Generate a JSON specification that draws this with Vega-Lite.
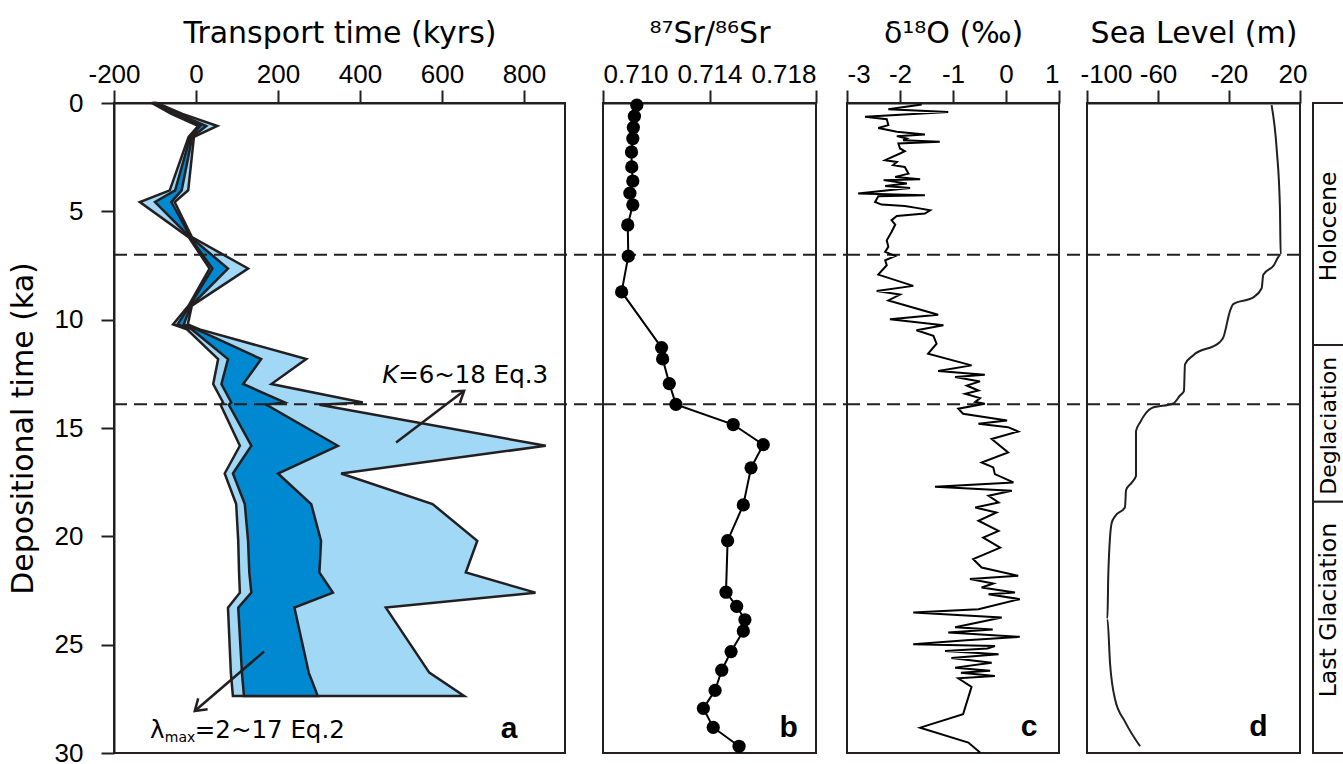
{
  "$schema": "https://vega.github.io/schema/vega-lite/v6.json",
  "padding": {"left": 7, "top": 17, "right": 5, "bottom": 5},
  "background": "white",
  "config": {
    "locale": {"number": {"decimal": ".", "thousands": ",", "grouping": [3], "currency": ["", ""], "minus": "-"}},
    "font": "DejaVu Sans",
    "view": {"stroke": "#231f20", "strokeWidth": 2},
    "axis": {"labelFont": "Liberation Sans", "titleFont": "DejaVu Sans", "labelFontSize": 26, "titleFontSize": 30, "titleFontWeight": "normal", "labelColor": "#000", "titleColor": "#000", "tickColor": "#231f20", "domainColor": "#231f20", "tickWidth": 2, "domainWidth": 2, "tickSize": 13, "grid": false, "labelPadding": 3, "titlePadding": 13, "labelOverlap": false},
    "text": {"font": "DejaVu Sans", "color": "#000"}
  },
  "datasets": {
    "transport": [
      {"ka": 0, "L1": -108, "L2": -105, "L3": -100, "L4": -95},
      {"ka": 0.5, "L1": -60, "L2": -52, "L3": -42, "L4": -33},
      {"ka": 1.06, "L1": 5, "L2": 10, "L3": 25, "L4": 52},
      {"ka": 1.56, "L1": -18, "L2": -14, "L3": -9, "L4": -5},
      {"ka": 4.03, "L1": -64, "L2": -51, "L3": -35, "L4": -19},
      {"ka": 4.57, "L1": -137, "L2": -100, "L3": -60, "L4": -52},
      {"ka": 6.19, "L1": -18, "L2": -15, "L3": -13, "L4": -10},
      {"ka": 7.64, "L1": 33, "L2": 40, "L3": 78, "L4": 127},
      {"ka": 9.35, "L1": -18, "L2": -15, "L3": -12, "L4": -10},
      {"ka": 10.22, "L1": -56, "L2": -45, "L3": -30, "L4": -20},
      {"ka": 10.45, "L1": -22, "L2": -10, "L3": 2, "L4": 9},
      {"ka": 11.82, "L1": 54, "L2": 78, "L3": 159, "L4": 269},
      {"ka": 12.97, "L1": 42, "L2": 62, "L3": 115, "L4": 184},
      {"ka": 13.82, "L1": 66, "L2": 86, "L3": 216, "L4": 407},
      {"ka": 13.93, "L1": 60, "L2": 80, "L3": 172, "L4": 301},
      {"ka": 15.82, "L1": 107, "L2": 135, "L3": 346, "L4": 853},
      {"ka": 17.1, "L1": 70, "L2": 90, "L3": 200, "L4": 354},
      {"ka": 18.51, "L1": 98, "L2": 119, "L3": 281, "L4": 577},
      {"ka": 20.21, "L1": 103, "L2": 127, "L3": 305, "L4": 686},
      {"ka": 21.67, "L1": 105, "L2": 130, "L3": 301, "L4": 658},
      {"ka": 22.6, "L1": 107, "L2": 135, "L3": 334, "L4": 828},
      {"ka": 23.29, "L1": 78, "L2": 103, "L3": 240, "L4": 463},
      {"ka": 26.29, "L1": 85, "L2": 112, "L3": 275, "L4": 569},
      {"ka": 27.37, "L1": 90, "L2": 117, "L3": 297, "L4": 654}
    ],
    "sr": [
      {"ka": 0.1, "sr": 0.71127}, {"ka": 0.61, "sr": 0.71118}, {"ka": 1.13, "sr": 0.71114}, {"ka": 1.64, "sr": 0.71112},
      {"ka": 2.26, "sr": 0.71107}, {"ka": 2.95, "sr": 0.71108}, {"ka": 3.6, "sr": 0.71112}, {"ka": 4.16, "sr": 0.71101},
      {"ka": 4.7, "sr": 0.71112}, {"ka": 5.63, "sr": 0.71093}, {"ka": 7.07, "sr": 0.71095}, {"ka": 8.72, "sr": 0.7107},
      {"ka": 11.29, "sr": 0.7122}, {"ka": 11.81, "sr": 0.71224}, {"ka": 12.95, "sr": 0.71249}, {"ka": 13.91, "sr": 0.71274},
      {"ka": 14.84, "sr": 0.71489}, {"ka": 15.77, "sr": 0.71602}, {"ka": 16.84, "sr": 0.71556}, {"ka": 18.55, "sr": 0.71527},
      {"ka": 20.2, "sr": 0.71468}, {"ka": 22.58, "sr": 0.71462}, {"ka": 23.23, "sr": 0.71502}, {"ka": 23.85, "sr": 0.71533},
      {"ka": 24.37, "sr": 0.71527}, {"ka": 25.32, "sr": 0.71481}, {"ka": 26.18, "sr": 0.71446}, {"ka": 27.11, "sr": 0.71421},
      {"ka": 27.94, "sr": 0.71377}, {"ka": 28.82, "sr": 0.71414}, {"ka": 29.69, "sr": 0.71511}
    ],
    "d18o": [
      {"ka": 0.07, "v": -1.59}, {"ka": 0.29, "v": -2.22}, {"ka": 0.41, "v": -1.09}, {"ka": 0.64, "v": -2.66},
      {"ka": 0.75, "v": -2.25}, {"ka": 1.02, "v": -2.22}, {"ka": 1.15, "v": -2.41}, {"ka": 1.33, "v": -2.06},
      {"ka": 1.45, "v": -1.53}, {"ka": 1.53, "v": -2.06}, {"ka": 1.64, "v": -1.87}, {"ka": 1.72, "v": -1.94},
      {"ka": 1.79, "v": -1.25}, {"ka": 1.87, "v": -2.03}, {"ka": 2.1, "v": -2.0}, {"ka": 2.22, "v": -1.91},
      {"ka": 2.33, "v": -2.0}, {"ka": 2.64, "v": -2.28}, {"ka": 2.72, "v": -2.06}, {"ka": 2.87, "v": -2.13},
      {"ka": 2.95, "v": -1.91}, {"ka": 3.26, "v": -1.84}, {"ka": 3.41, "v": -2.09}, {"ka": 3.52, "v": -1.62},
      {"ka": 3.56, "v": -2.31}, {"ka": 3.72, "v": -1.87}, {"ka": 3.83, "v": -2.28}, {"ka": 3.92, "v": -1.81},
      {"ka": 4.03, "v": -2.22}, {"ka": 4.18, "v": -2.79}, {"ka": 4.26, "v": -1.53}, {"ka": 4.3, "v": -2.41},
      {"ka": 4.57, "v": -2.47}, {"ka": 4.69, "v": -2.35}, {"ka": 4.75, "v": -1.91}, {"ka": 4.84, "v": -1.69},
      {"ka": 4.95, "v": -1.43}, {"ka": 5.1, "v": -1.53}, {"ka": 5.21, "v": -2.06}, {"ka": 5.41, "v": -2.16},
      {"ka": 5.61, "v": -2.09}, {"ka": 5.95, "v": -2.16}, {"ka": 6.34, "v": -2.25}, {"ka": 6.64, "v": -2.22},
      {"ka": 6.87, "v": -2.28}, {"ka": 7.06, "v": -2.09}, {"ka": 7.26, "v": -2.28}, {"ka": 7.49, "v": -2.25},
      {"ka": 7.92, "v": -2.41}, {"ka": 8.44, "v": -1.75}, {"ka": 8.68, "v": -2.44}, {"ka": 8.84, "v": -2.0},
      {"ka": 9.11, "v": -2.22}, {"ka": 9.77, "v": -1.28}, {"ka": 9.98, "v": -2.19}, {"ka": 10.26, "v": -1.18},
      {"ka": 10.49, "v": -1.69}, {"ka": 10.75, "v": -1.37}, {"ka": 11.11, "v": -1.31}, {"ka": 11.57, "v": -1.47},
      {"ka": 12.11, "v": -0.65}, {"ka": 12.37, "v": -1.28}, {"ka": 12.54, "v": -0.4}, {"ka": 12.65, "v": -0.96},
      {"ka": 12.85, "v": -0.49}, {"ka": 13.04, "v": -0.74}, {"ka": 13.27, "v": -0.52}, {"ka": 13.42, "v": -0.77},
      {"ka": 13.62, "v": -0.49}, {"ka": 13.8, "v": -0.58}, {"ka": 13.88, "v": -0.4}, {"ka": 14.11, "v": -0.9},
      {"ka": 14.34, "v": -0.81}, {"ka": 14.65, "v": 0.02}, {"ka": 14.8, "v": -0.52}, {"ka": 14.96, "v": 0.04},
      {"ka": 15.16, "v": 0.23}, {"ka": 15.51, "v": -0.27}, {"ka": 16.13, "v": 0.04}, {"ka": 16.59, "v": -0.46},
      {"ka": 16.82, "v": -0.24}, {"ka": 17.13, "v": -0.21}, {"ka": 17.51, "v": 0.14}, {"ka": 17.71, "v": -1.34},
      {"ka": 17.9, "v": 0.11}, {"ka": 18.13, "v": -0.33}, {"ka": 18.44, "v": -0.14}, {"ka": 18.67, "v": -0.58},
      {"ka": 18.9, "v": -0.18}, {"ka": 19.28, "v": -0.52}, {"ka": 19.75, "v": -0.14}, {"ka": 20.06, "v": -0.43},
      {"ka": 20.52, "v": -0.11}, {"ka": 20.75, "v": -0.33}, {"ka": 21.05, "v": -0.62}, {"ka": 21.44, "v": -0.46},
      {"ka": 21.82, "v": 0.23}, {"ka": 21.97, "v": -0.68}, {"ka": 22.18, "v": -0.24}, {"ka": 22.36, "v": -0.46},
      {"ka": 22.59, "v": 0.17}, {"ka": 22.67, "v": -0.33}, {"ka": 22.9, "v": 0.26}, {"ka": 23.36, "v": -0.52},
      {"ka": 23.52, "v": -1.75}, {"ka": 23.75, "v": -0.08}, {"ka": 24.2, "v": -0.96}, {"ka": 24.3, "v": -0.25},
      {"ka": 24.44, "v": -1.09}, {"ka": 24.64, "v": 0.26}, {"ka": 24.8, "v": -0.75}, {"ka": 24.98, "v": -1.75},
      {"ka": 25.06, "v": -0.21}, {"ka": 25.18, "v": -0.35}, {"ka": 25.29, "v": -1.15}, {"ka": 25.44, "v": -0.14},
      {"ka": 25.62, "v": -1.03}, {"ka": 25.83, "v": -0.27}, {"ka": 26.06, "v": -0.96}, {"ka": 26.2, "v": -0.3},
      {"ka": 26.3, "v": -0.85}, {"ka": 26.45, "v": -0.21}, {"ka": 26.55, "v": -0.9}, {"ka": 26.95, "v": -0.65},
      {"ka": 28.21, "v": -0.81}, {"ka": 28.83, "v": -1.62}, {"ka": 29.52, "v": -0.71}, {"ka": 29.98, "v": -0.49}
    ],
    "sealevel": [
      {"ka": 0.1, "m": 4.0}, {"ka": 2.16, "m": 6.9}, {"ka": 4.84, "m": 8.7}, {"ka": 7.0, "m": 9.1},
      {"ka": 7.52, "m": 5.0}, {"ka": 7.93, "m": -0.7}, {"ka": 8.55, "m": -1.6}, {"ka": 8.97, "m": -6.3},
      {"ka": 9.28, "m": -17.6}, {"ka": 9.59, "m": -19.4}, {"ka": 10.82, "m": -23.2}, {"ka": 11.03, "m": -25.1},
      {"ka": 11.64, "m": -40.1}, {"ka": 12.06, "m": -44.8}, {"ka": 13.3, "m": -45.4}, {"ka": 13.5, "m": -47.6},
      {"ka": 13.87, "m": -51.4}, {"ka": 14.08, "m": -63.6}, {"ka": 14.74, "m": -70.1}, {"ka": 15.15, "m": -72.4},
      {"ka": 17.21, "m": -72.4}, {"ka": 17.52, "m": -74.8}, {"ka": 17.87, "m": -78.0}, {"ka": 18.66, "m": -78.6},
      {"ka": 19.07, "m": -84.2}, {"ka": 19.38, "m": -86.1}, {"ka": 21.75, "m": -88.0}, {"ka": 23.81, "m": -88.5},
      {"ka": 25.88, "m": -87.0}, {"ka": 27.52, "m": -84.2}, {"ka": 28.55, "m": -78.6}, {"ka": 29.69, "m": -70.1}
    ],
    "periods": [
      {"s": 0, "e": 11.17, "name": "Holocene", "mid": 5.7},
      {"s": 11.17, "e": 18.4, "name": "Deglaciation", "mid": 14.9},
      {"s": 18.4, "e": 30, "name": "Last Glaciation", "mid": 23.4}
    ],
    "dashes": [{"ka": 7.0}, {"ka": 13.9}]
  },
  "bounds": "flush",
  "spacing": 38,
  "hconcat": [
    {
      "width": 451,
      "height": 650,
      "layer": [
        {
          "data": {"name": "transport"},
          "mark": {"type": "area", "orient": "horizontal", "fill": "#a0d8f5", "stroke": "#231f20", "strokeWidth": 2.5, "strokeJoin": "miter"},
          "encoding": {
            "y": {"field": "ka", "type": "quantitative", "scale": {"domain": [0, 30], "reverse": true, "nice": false, "zero": false},
                  "axis": {"orient": "left", "title": "Depositional time (ka)", "values": [0, 5, 10, 15, 20, 25, 30], "format": "d", "labelPadding": 18, "titlePadding": 16}},
            "x": {"field": "L1", "type": "quantitative", "scale": {"domain": [-200, 900], "nice": false, "zero": false},
                  "axis": {"orient": "top", "title": "Transport time (kyrs)", "values": [-200, 0, 200, 400, 600, 800], "format": "d", "labelFlush": false}},
            "x2": {"field": "L4"}
          }
        },
        {
          "data": {"name": "transport"},
          "mark": {"type": "area", "orient": "horizontal", "fill": "#0088d1", "stroke": "#231f20", "strokeWidth": 2.5, "strokeJoin": "miter"},
          "encoding": {
            "y": {"field": "ka", "type": "quantitative"},
            "x": {"field": "L2", "type": "quantitative"},
            "x2": {"field": "L3"}
          }
        },
        {
          "data": {"name": "dashes"},
          "mark": {"type": "rule", "color": "#231f20", "strokeWidth": 2, "strokeDash": [13, 7]},
          "encoding": {
            "y": {"field": "ka", "type": "quantitative"},
            "x": {"datum": -200},
            "x2": {"datum": 990}
          }
        },
        {
          "data": {"values": [{"xa": 488, "ka": 15.67, "xb": 654, "kb": 13.28}, {"xa": 166, "ka": 25.32, "xb": -3, "kb": 28.06}]},
          "mark": {"type": "rule", "color": "#231f20", "strokeWidth": 2.5},
          "encoding": {
            "x": {"field": "xa", "type": "quantitative"},
            "y": {"field": "ka", "type": "quantitative"},
            "x2": {"field": "xb"},
            "y2": {"field": "kb"}
          }
        },
        {
          "data": {"values": [{"x": 654, "ka": 13.28}]},
          "mark": {"type": "point", "shape": "M -0.6 0.9 L 0 0 L 0.6 0.9", "filled": false, "stroke": "#231f20", "strokeWidth": 2.5, "size": 576, "angle": 53, "opacity": 1},
          "encoding": {"x": {"field": "x", "type": "quantitative"}, "y": {"field": "ka", "type": "quantitative"}}
        },
        {
          "data": {"values": [{"x": -3, "ka": 28.06}]},
          "mark": {"type": "point", "shape": "M -0.6 0.9 L 0 0 L 0.6 0.9", "filled": false, "stroke": "#231f20", "strokeWidth": 2.5, "size": 576, "angle": 229, "opacity": 1},
          "encoding": {"x": {"field": "x", "type": "quantitative"}, "y": {"field": "ka", "type": "quantitative"}}
        },
        {
          "data": {"values": [{"x": 454, "ka": 12.91, "t": "K"}]},
          "mark": {"type": "text", "align": "left", "baseline": "alphabetic", "fontSize": 24.5, "fontStyle": "italic"},
          "encoding": {"x": {"field": "x", "type": "quantitative"}, "y": {"field": "ka", "type": "quantitative"}, "text": {"field": "t"}}
        },
        {
          "data": {"values": [{"x": 493, "ka": 12.91, "t": "=6~18 Eq.3"}, {"x": -112, "ka": 29.3, "t": "λ"}, {"x": -3, "ka": 29.3, "t": "=2~17 Eq.2"}]},
          "mark": {"type": "text", "align": "left", "baseline": "alphabetic", "fontSize": 24.5},
          "encoding": {"x": {"field": "x", "type": "quantitative"}, "y": {"field": "ka", "type": "quantitative"}, "text": {"field": "t"}}
        },
        {
          "data": {"values": [{"x": -76, "ka": 29.5, "t": "max"}]},
          "mark": {"type": "text", "align": "left", "baseline": "alphabetic", "fontSize": 14},
          "encoding": {"x": {"field": "x", "type": "quantitative"}, "y": {"field": "ka", "type": "quantitative"}, "text": {"field": "t"}}
        },
        {
          "data": {"values": [{"x": 763.5, "ka": 29.3, "t": "a"}]},
          "mark": {"type": "text", "align": "center", "baseline": "alphabetic", "fontSize": 30, "fontWeight": "bold", "font": "Liberation Sans"},
          "encoding": {"x": {"field": "x", "type": "quantitative"}, "y": {"field": "ka", "type": "quantitative"}, "text": {"field": "t"}}
        }
      ]
    },
    {
      "bounds": "flush",
      "spacing": 31,
      "hconcat": [
        {
          "width": 213,
          "height": 650,
          "layer": [
            {
              "data": {"name": "dashes"},
              "mark": {"type": "rule", "color": "#231f20", "strokeWidth": 2, "strokeDash": [13, 7]},
              "encoding": {
                "y": {"field": "ka", "type": "quantitative", "scale": {"domain": [0, 30], "reverse": true, "nice": false, "zero": false}, "axis": null},
                "x": {"datum": 0.71, "type": "quantitative", "scale": {"domain": [0.71, 0.718], "nice": false, "zero": false},
                      "axis": {"orient": "top", "title": "⁸⁷Sr/⁸⁶Sr", "values": [0.71, 0.714, 0.718], "format": ".3f", "labelFlush": true}},
                "x2": {"datum": 0.71917}
              }
            },
            {
              "data": {"name": "sr"},
              "mark": {"type": "line", "color": "#000", "strokeWidth": 2},
              "encoding": {
                "y": {"field": "ka", "type": "quantitative"},
                "x": {"field": "sr", "type": "quantitative"},
                "order": {"field": "ka", "type": "quantitative"}
              }
            },
            {
              "data": {"name": "sr"},
              "mark": {"type": "point", "filled": true, "color": "#000", "size": 175, "opacity": 1},
              "encoding": {
                "y": {"field": "ka", "type": "quantitative"},
                "x": {"field": "sr", "type": "quantitative"}
              }
            },
            {
              "data": {"values": [{"x": 0.71697, "ka": 29.26, "t": "b"}]},
              "mark": {"type": "text", "align": "center", "baseline": "alphabetic", "fontSize": 30, "fontWeight": "bold", "font": "Liberation Sans"},
              "encoding": {"x": {"field": "x", "type": "quantitative"}, "y": {"field": "ka", "type": "quantitative"}, "text": {"field": "t"}}
            }
          ]
        },
        {
          "bounds": "flush",
          "spacing": 28,
          "hconcat": [
            {
              "width": 212,
              "height": 650,
              "layer": [
                {
                  "data": {"name": "dashes"},
                  "mark": {"type": "rule", "color": "#231f20", "strokeWidth": 2, "strokeDash": [13, 7]},
                  "encoding": {
                    "y": {"field": "ka", "type": "quantitative", "scale": {"domain": [0, 30], "reverse": true, "nice": false, "zero": false}, "axis": null},
                    "x": {"datum": -3, "type": "quantitative", "scale": {"domain": [-3, 1], "nice": false, "zero": false},
                          "axis": {"orient": "top", "title": "δ¹⁸O (‰)", "values": [-3, -2, -1, 0, 1], "format": "d", "labelFlush": true}},
                    "x2": {"datum": 1.528}
                  }
                },
                {
                  "data": {"name": "d18o"},
                  "mark": {"type": "line", "color": "#000", "strokeWidth": 2, "strokeJoin": "miter"},
                  "encoding": {
                    "y": {"field": "ka", "type": "quantitative"},
                    "x": {"field": "v", "type": "quantitative"},
                    "order": {"field": "ka", "type": "quantitative"}
                  }
                },
                {
                  "data": {"values": [{"x": 0.434, "ka": 29.2, "t": "c"}]},
                  "mark": {"type": "text", "align": "center", "baseline": "alphabetic", "fontSize": 30, "fontWeight": "bold", "font": "Liberation Sans"},
                  "encoding": {"x": {"field": "x", "type": "quantitative"}, "y": {"field": "ka", "type": "quantitative"}, "text": {"field": "t"}}
                }
              ]
            },
            {
              "bounds": "flush",
              "spacing": 13,
              "hconcat": [
                {
                  "width": 213,
                  "height": 650,
                  "layer": [
                    {
                      "data": {"name": "dashes"},
                      "mark": {"type": "rule", "color": "#231f20", "strokeWidth": 2, "strokeDash": [13, 7]},
                      "encoding": {
                        "y": {"field": "ka", "type": "quantitative", "scale": {"domain": [0, 30], "reverse": true, "nice": false, "zero": false}, "axis": null},
                        "x": {"datum": -100, "type": "quantitative", "scale": {"domain": [-100, 20], "nice": false, "zero": false},
                              "axis": {"orient": "top", "title": "Sea Level (m)", "values": [-100, -60, -20, 20], "format": "d", "labelFlush": true, "labelFlushOffset": 7}},
                        "x2": {"datum": 20}
                      }
                    },
                    {
                      "data": {"name": "sealevel"},
                      "mark": {"type": "line", "color": "#231f20", "strokeWidth": 2, "interpolate": "monotone"},
                      "encoding": {
                        "y": {"field": "ka", "type": "quantitative"},
                        "x": {"field": "m", "type": "quantitative"},
                        "order": {"field": "ka", "type": "quantitative"}
                      }
                    },
                    {
                      "data": {"values": [{"x": -3.4, "ka": 29.2, "t": "d"}]},
                      "mark": {"type": "text", "align": "center", "baseline": "alphabetic", "fontSize": 30, "fontWeight": "bold", "font": "Liberation Sans"},
                      "encoding": {"x": {"field": "x", "type": "quantitative"}, "y": {"field": "ka", "type": "quantitative"}, "text": {"field": "t"}}
                    }
                  ]
                },
                {
                  "width": 37,
                  "height": 650,
                  "data": {"name": "periods"},
                  "layer": [
                    {
                      "mark": {"type": "rect", "fill": "white", "stroke": "#231f20", "strokeWidth": 2},
                      "encoding": {
                        "y": {"field": "s", "type": "quantitative", "scale": {"domain": [0, 30], "reverse": true, "nice": false, "zero": false}, "axis": null},
                        "y2": {"field": "e"},
                        "x": {"datum": 0, "type": "quantitative", "scale": {"domain": [0, 1], "nice": false, "zero": false}, "axis": null},
                        "x2": {"datum": 1}
                      }
                    },
                    {
                      "transform": [{"filter": "datum.name != 'Deglaciation'"}],
                      "mark": {"type": "text", "angle": 270, "align": "center", "baseline": "middle", "fontSize": 23.5},
                      "encoding": {
                        "y": {"field": "mid", "type": "quantitative"},
                        "x": {"datum": 0.42, "type": "quantitative"},
                        "text": {"field": "name"}
                      }
                    },
                    {
                      "transform": [{"filter": "datum.name == 'Deglaciation'"}],
                      "mark": {"type": "text", "angle": 270, "align": "center", "baseline": "middle", "fontSize": 22},
                      "encoding": {
                        "y": {"field": "mid", "type": "quantitative"},
                        "x": {"datum": 0.42, "type": "quantitative"},
                        "text": {"field": "name"}
                      }
                    }
                  ]
                }
              ]
            }
          ]
        }
      ]
    }
  ]
}
